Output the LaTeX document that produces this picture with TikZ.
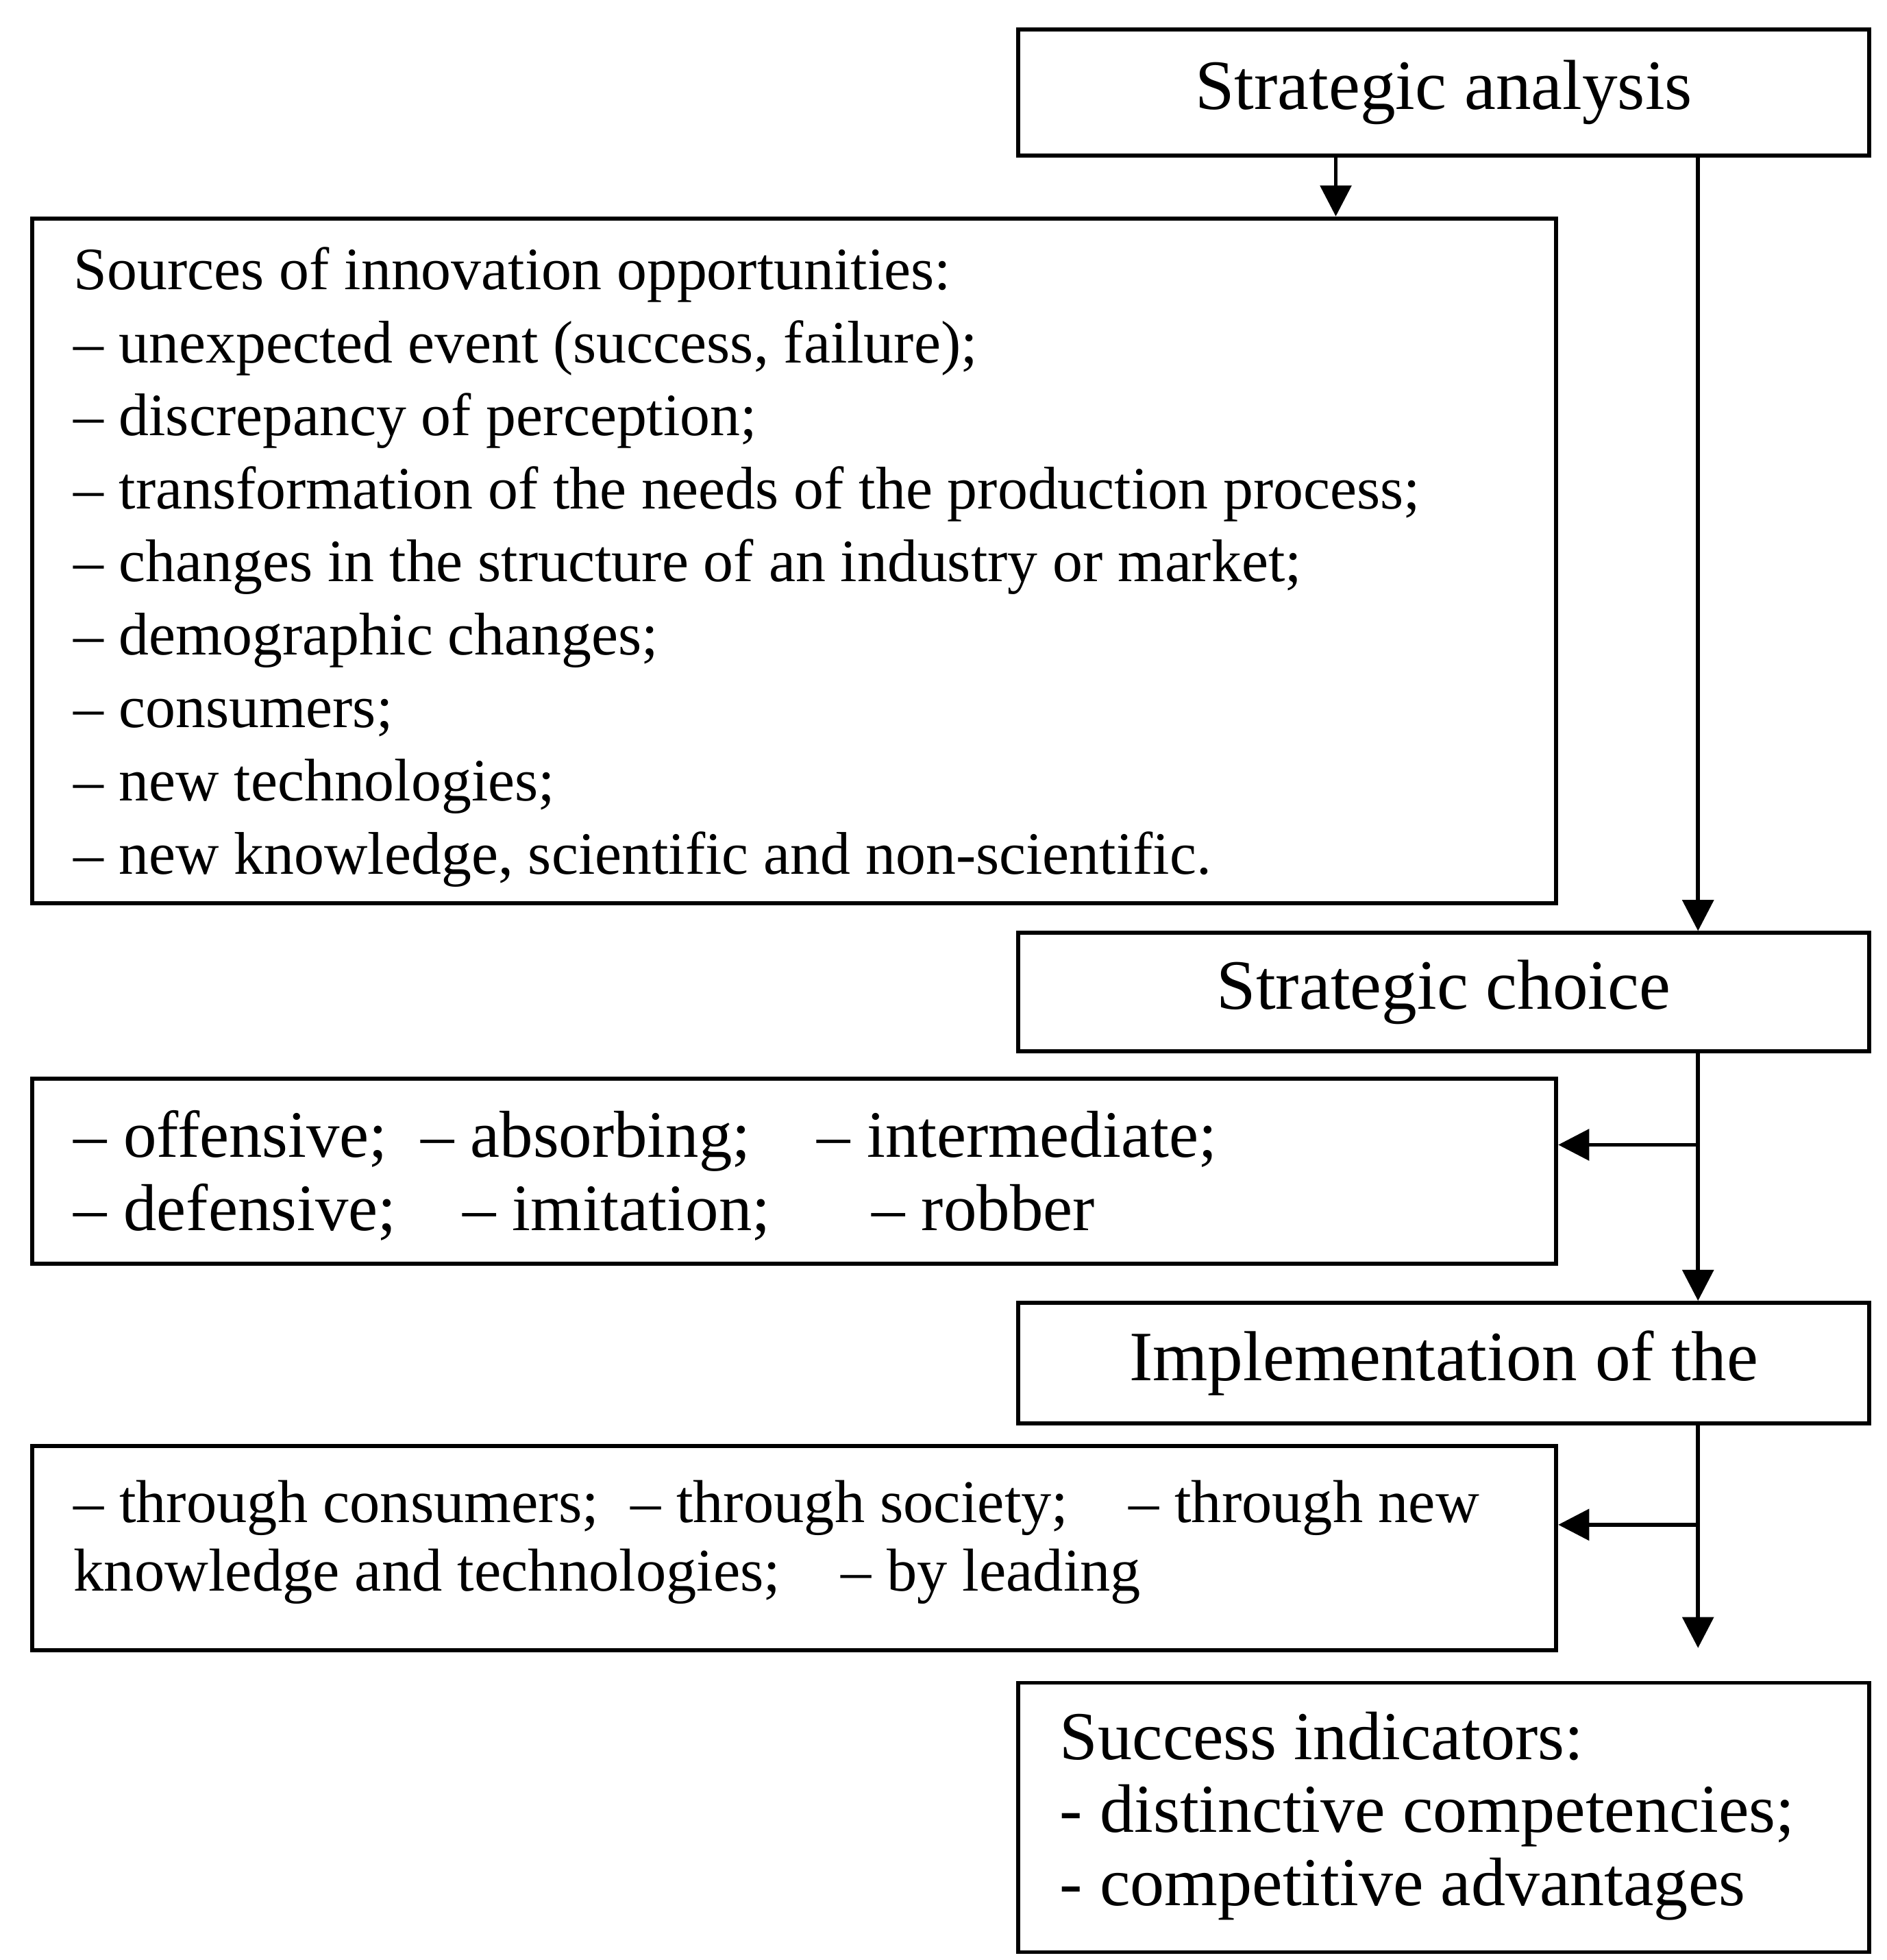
\documentclass[tikz,border=0pt]{standalone}
\usepackage{fontspec}
\setmainfont{Liberation Serif}
\usetikzlibrary{arrows.meta,positioning}
\tikzset{
  box/.style={draw, line width=0.9pt, anchor=north west, inner sep=0pt},
  flow/.style={-{Triangle[length=7pt,width=7pt]}, line width=0.9pt},
}
\begin{document}
\begin{tikzpicture}[x=0.01cm,y=-0.01cm]
\useasboundingbox (0,0) rectangle (1500,1558);
% boxes
\node[box, minimum width=6.76cm, minimum height=1cm] (sa) at (808,22) {};
\node[font=\fontsize{16}{20}\selectfont] at (sa.center) {Strategic analysis};
\node[box, minimum width=12.11cm, minimum height=5.44cm] (src) at (24,172) {};
\node[anchor=north west, align=left, inner sep=0pt, font=\fontsize{13.6}{16.5}\selectfont] (srctxt) at (58,196)
 {Sources of innovation opportunities:\\
  -- unexpected event (success, failure);\\
  -- discrepancy of perception;\\
  -- transformation of the needs of the production process;\\
  -- changes in the structure of an industry or market;\\
  -- demographic changes;\\
  -- consumers;\\
  -- new technologies;\\
  -- new knowledge, scientific and non-scientific.};
\node[box, minimum width=6.76cm, minimum height=0.94cm] (sc) at (808,740) {};
\node[font=\fontsize{16}{20}\selectfont] at (sc.center) {Strategic choice};
\node[box, minimum width=12.11cm, minimum height=1.47cm] (strat) at (24,856) {};
\node[anchor=north west, align=left, inner sep=0pt, font=\fontsize{15}{16.5}\selectfont] (strattxt) at (58,882)
 {-- offensive;\enspace -- absorbing;\quad -- intermediate;\\
  -- defensive;\quad -- imitation;\quad\; -- robber};
\node[box, minimum width=6.76cm, minimum height=0.96cm] (impl) at (808,1034) {};
\node[font=\fontsize{16}{20}\selectfont] at (impl.center) {Implementation of the};
\node[box, minimum width=12.11cm, minimum height=1.62cm] (way) at (24,1148) {};
\node[anchor=north west, align=left, inner sep=0pt, font=\fontsize{13.7}{15.5}\selectfont] (waytxt) at (58,1176)
 {-- through consumers;\; -- through society;\quad -- through new\\
  knowledge and technologies;\quad -- by leading};
\node[box, minimum width=6.76cm, minimum height=2.14cm] (succ) at (808,1336) {};
\node[anchor=north west, align=left, inner sep=0pt, font=\fontsize{15.5}{16.5}\selectfont] (succtxt) at (842,1360)
 {Success indicators:\\
  - distinctive competencies;\\
  - competitive advantages};
% connectors
\coordinate (end) at (1350,1310);
\draw[flow] (sa.south -| 1062,0) -- (src.north -| 1062,0);
\draw[flow] (sa.south -| end) -- (sc.north -| end);
\draw[flow] (sc.south -| end) -- (impl.north -| end);
\draw[flow] (1350,910) -- (strat.east |- 0,910);
\draw[flow] (impl.south -| end) -- (end);
\draw[flow] (1350,1212) -- (way.east |- 0,1212);
\end{tikzpicture}
\end{document}
